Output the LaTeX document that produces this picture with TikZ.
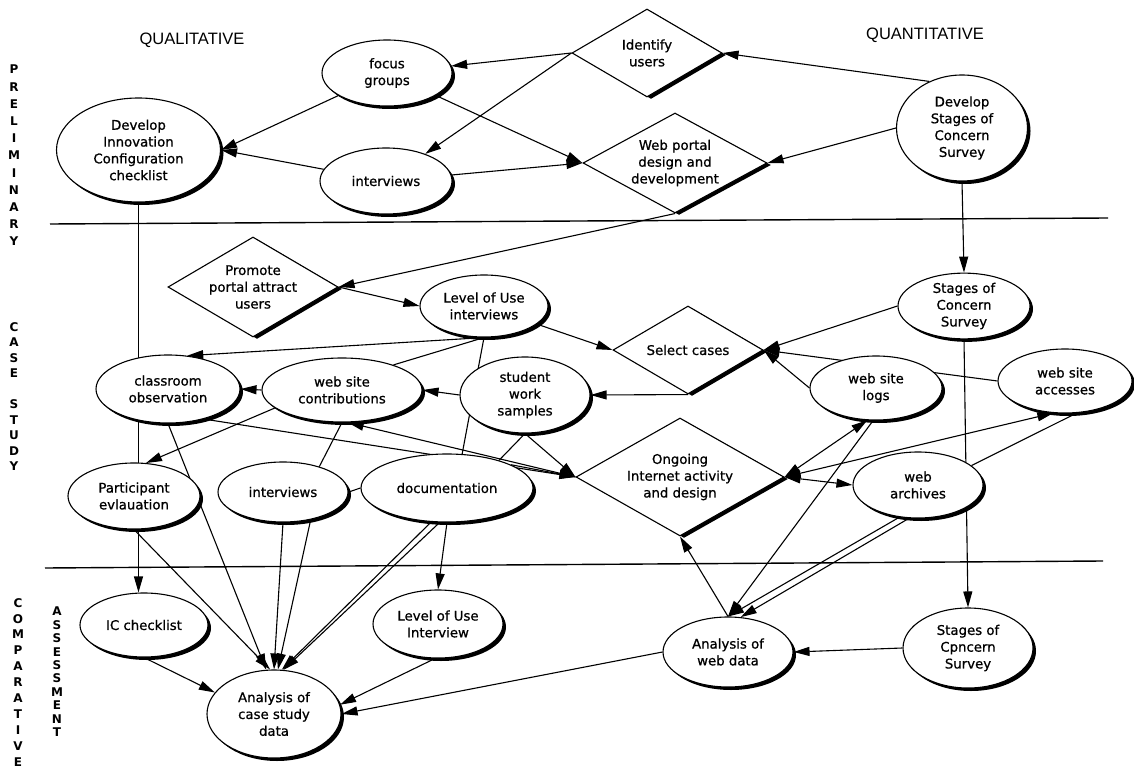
\documentclass[tikz,border=0pt]{standalone}
\usepackage{fontspec}
\setmainfont[FakeBold=0.8]{DejaVu Sans}
\newfontfamily\hdrfont{Liberation Sans}
\newfontfamily\sidefont{DejaVu Sans Bold}
\usetikzlibrary{shapes.geometric,arrows.meta,shadows,calc}
\pgfdeclarelayer{bg}
\pgfsetlayers{bg,main}
\begin{document}
\begin{tikzpicture}[x=1pt,y=-1pt,
  every node/.style={inner sep=0pt, align=center, font=\fontsize{13.3}{16.8}\selectfont},
  ell/.style={ellipse, draw, fill=white, line width=1.1pt,
    drop shadow={shadow xshift=3pt, shadow yshift=-3pt, fill=black, opacity=1}},
  dia/.style={diamond, draw, fill=white, line width=1.1pt,
    drop shadow={shadow xshift=4pt, shadow yshift=-2pt, fill=black, opacity=1}},
  con/.style={line width=1.1pt},
  arr/.style={con, -{Triangle[length=16pt,width=9pt]}},
  both/.style={con, {Triangle[length=16pt,width=9pt]}-{Triangle[length=16pt,width=9pt]}},
  hdr/.style={font=\hdrfont\fontsize{16.5}{18}\selectfont},
  sep/.style={line width=1.4pt}
]
\useasboundingbox (0,0) rectangle (1134,783);

% headers
\node[hdr] (qual) at (192,40) {QUALITATIVE};
\node[hdr] (quant) at (925,35) {QUANTITATIVE};

% side labels
\node[anchor=north, font=\sidefont\fontsize{12}{17.2}\selectfont] (prelim) at (14,65) {P\\R\\E\\L\\I\\M\\I\\N\\A\\R\\Y};
\node[anchor=north, font=\sidefont\fontsize{12}{15.5}\selectfont] (casestudy) at (14,322) {C\\A\\S\\E\\[15.5pt]S\\T\\U\\D\\Y};
\node[anchor=north, font=\sidefont\fontsize{12}{15.9}\selectfont] (compar) at (18,598) {C\\O\\M\\P\\A\\R\\A\\T\\I\\V\\E};
\node[anchor=north, font=\sidefont\fontsize{12}{13.4}\selectfont] (assess) at (57,607) {A\\S\\S\\E\\S\\S\\M\\E\\N\\T};

% separators
\coordinate (s1a) at (50,224);
\coordinate (s1b) at (1108,218);
\coordinate (s2a) at (45,568);
\coordinate (s2b) at (1103,561);

% preliminary
\node[ell, minimum width=164pt, minimum height=104pt] (devIC) at (138.5,150) {Develop\\Innovation\\Configuration\\checklist};
\node[ell, minimum width=130pt, minimum height=66pt] (focus) at (387,73) {focus\\groups};
\node[ell, minimum width=132pt, minimum height=66pt] (intA) at (386,181) {interviews};
\node[dia, aspect=1.7, minimum width=150pt, minimum height=88pt] (identify) at (647,53) {Identify\\users};
\node[dia, aspect=1.84, minimum width=184pt, minimum height=100pt] (webportal) at (675,163) {Web portal\\design and\\development};
\node[ell, minimum width=131pt, minimum height=106pt] (devSoC) at (962,128) {Develop\\Stages of\\Concern\\Survey};

% case study
\node[dia, aspect=1.7, minimum width=170pt, minimum height=100pt] (promote) at (253,287) {Promote\\portal attract\\users};
\node[ell, minimum width=128pt, minimum height=62pt] (louA) at (484,306) {Level of Use\\interviews};
\node[dia, aspect=1.7, minimum width=150pt, minimum height=88pt] (select) at (688,350) {Select cases};
\node[ell, minimum width=132pt, minimum height=64pt] (socB) at (964,306) {Stages of\\Concern\\Survey};
\node[ell, minimum width=144pt, minimum height=68pt] (classroom) at (168,389) {classroom\\observation};
\node[ell, minimum width=160pt, minimum height=64pt] (contrib) at (342,390) {web site\\contributions};
\node[ell, minimum width=130pt, minimum height=76pt] (student) at (525,395) {student\\work\\samples};
\node[ell, minimum width=132pt, minimum height=64pt] (logs) at (876,388) {web site\\logs};
\node[ell, minimum width=134pt, minimum height=64pt] (accesses) at (1065,381) {web site\\accesses};
\node[ell, minimum width=132pt, minimum height=66pt] (particip) at (134,496) {Participant\\evlauation};
\node[ell, minimum width=130pt, minimum height=60pt] (intB) at (283,492) {interviews};
\node[ell, minimum width=172pt, minimum height=68pt] (docu) at (447,488) {documentation};
\node[dia, aspect=1.76, minimum width=208pt, minimum height=118pt] (ongoing) at (680,477) {Ongoing\\Internet activity\\and design};
\node[ell, minimum width=130pt, minimum height=66pt] (archives) at (918,485) {web\\archives};

% comparative assessment
\node[ell, minimum width=128pt, minimum height=64pt] (ICcheck) at (144,625) {IC checklist};
\node[ell, minimum width=130pt, minimum height=68pt] (louB) at (438,624) {Level of Use\\Interview};
\node[ell, minimum width=134pt, minimum height=88pt] (anaCS) at (274,714) {Analysis of\\case study\\data};
\node[ell, minimum width=130pt, minimum height=70pt] (anaWeb) at (728,652) {Analysis of\\web data};
\node[ell, minimum width=130pt, minimum height=80pt] (socC) at (968,648) {Stages of\\Cpncern\\Survey};

\begin{pgfonlayer}{bg}
\draw[sep] (s1a) -- (s1b);
\draw[sep] (s2a) -- (s2b);
% preliminary
\draw[arr] (identify.west) -- (focus);
\draw[arr] (identify.west) -- (intA);
\draw[arr] (focus) -- (devIC.east);
\draw[arr] (intA) -- (devIC.east);
\draw[arr] (focus) -- (webportal.west);
\draw[arr] (intA) -- (webportal.west);
\draw[arr] (devSoC.125) -- (identify.east);
\draw[arr] (devSoC.west) -- (webportal.east);
\draw[arr] (devSoC.south) -- (socB.north);
\draw[arr] (webportal.south) -- (promote.east);
% case study
\draw[arr] (promote.east) -- (louA.west);
\draw[arr] (louA) -- (select.west);
\draw[arr] (louA.south) -- (classroom.60);
\draw[con] (louA.south) -- (contrib.26);
\draw[con] (louA.south) -- (docu.66);
\draw[arr] (contrib.west) -- (classroom.east);
\draw[arr] (student.west) -- (contrib.east);
\draw[arr] (select.south) -- (student.east);
\draw[arr] (socB.west) -- (select.east);
\draw[arr] (accesses.west) -- (select.east);
\draw[arr] (logs.west) -- (select.east);
\draw[arr] (devIC.south) -- (devIC.south |- ICcheck.north);
\draw[arr] (contrib.195) -- (particip.70);
\draw[con] (contrib.south) -- (intB.35);
\draw[con] (intB.east) -- (docu.west);
\draw[arr] (classroom.320) -- (ongoing.west);
\draw[arr] (ongoing.west) -- (contrib.280);
\draw[arr] (docu.20) -- (ongoing.west);
\draw[arr] (student.south) -- (ongoing.west);
\draw[con] (student.south) -- (docu.28);
\draw[both] (ongoing.east) -- (logs.255);
\draw[both] (ongoing.east) -- (accesses.250);
\draw[both] (ongoing.east) -- (archives.west);
\draw[con] (archives.20) -- (accesses.290);
\draw[arr] (socB.south) -- (socC.north);
% to analysis
\draw[arr] (classroom.south) -- (anaCS.100);
\draw[arr] (particip.south) -- (anaCS.95);
\draw[arr] (intB.south) -- (anaCS.90);
\draw[arr] (intB.315) -- (anaCS.85);
\draw[arr] (docu.245) -- (anaCS.80);
\draw[arr] (docu.258) -- (anaCS.78);
\draw[arr] (ICcheck.south) -- (anaCS.160);
\draw[arr] (louB.265) -- (anaCS.8);
\draw[arr] (anaWeb.west) -- (anaCS.east);
\draw[arr] (docu.south) -- (louB.north);
\draw[arr] (logs.265) -- (anaWeb.north);
\draw[arr] (archives.240) -- (anaWeb.north);
\draw[arr] (archives.255) -- (anaWeb.70);
\draw[arr] (anaWeb.north) -- (ongoing.south);
\draw[arr] (socC.west) -- (anaWeb.east);
\end{pgfonlayer}
\end{tikzpicture}
\end{document}
